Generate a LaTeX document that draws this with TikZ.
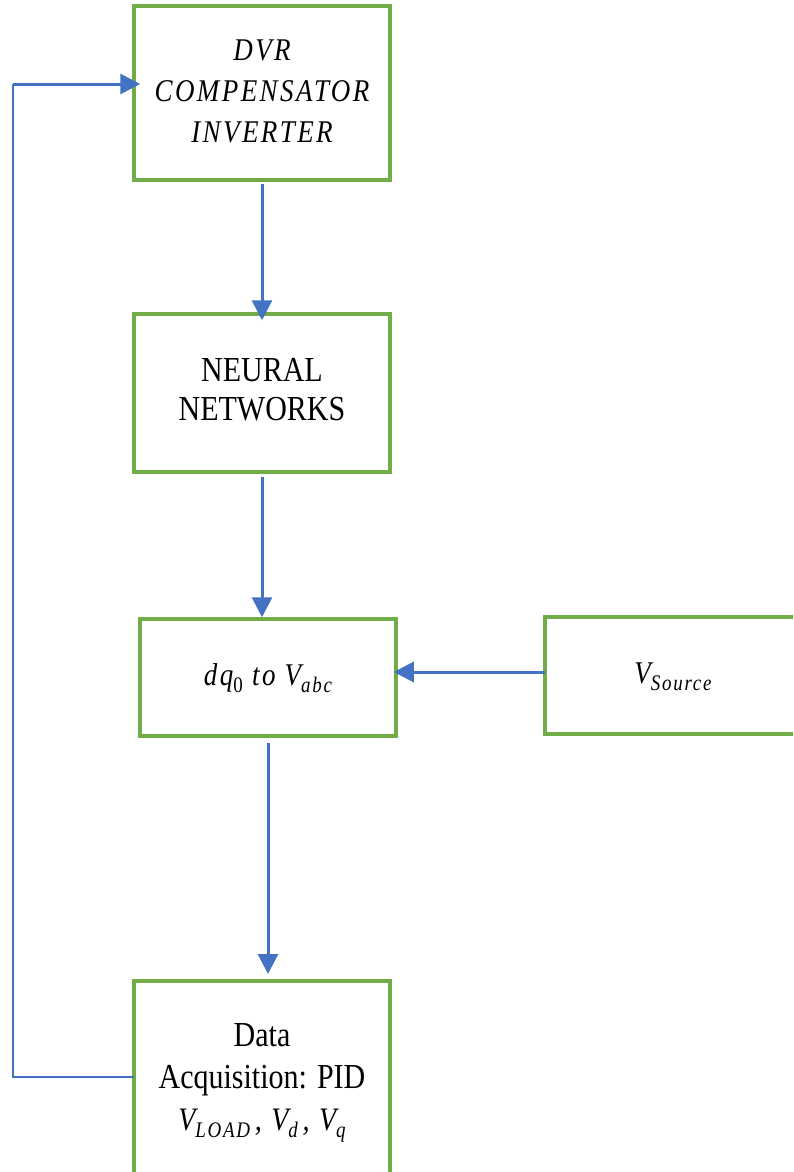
\documentclass[tikz,border=0pt]{standalone}
\usepackage{fontspec}
\setmainfont{Liberation Serif}
\newfontfamily\mifont{Liberation Serif}[LetterSpace=9]
\usepackage{graphicx}
\usetikzlibrary{arrows.meta,calc}
\definecolor{boxgreen}{HTML}{70AD47}
\definecolor{arrowblue}{HTML}{4472C4}
\newcommand{\stretchtxt}[4]{\scalebox{1}[1.17]{\fontsize{#1}{#2}\selectfont #3\begin{tabular}{@{}c@{}}#4\end{tabular}}}
\newcommand{\lowsub}[1]{\raisebox{-0.22em}{\fontsize{19}{19}\selectfont #1}}
\tikzset{
  blockbox/.style={draw=boxgreen, line width=3.5pt, fill=white, inner sep=0pt, minimum width=256pt},
  flowarrow/.style={draw=arrowblue, line width=3pt, -{Triangle[length=20pt,width=20pt]}},
  thinline/.style={draw=arrowblue, line width=1.3pt},
}
\begin{document}
\begin{tikzpicture}[x=1pt,y=-1pt]
\useasboundingbox (0,0) rectangle (793,1172);
\clip (0,0) rectangle (793,1172);

\node[blockbox, minimum height=174pt] (dvr) at (262,93)
  {\stretchtxt{27}{35}{\mifont\itshape}{DVR\\COMPENSATOR\\INVERTER}};
\node[blockbox, minimum height=158pt] (nn) at (262,393)
  {\stretchtxt{30}{33.5}{}{NEURAL\\NETWORKS}};
\node[blockbox, minimum height=117pt] (dq) at (268,677.5)
  {\stretchtxt{27}{33}{\mifont\itshape}{dq\lowsub{\upshape 0} to V\lowsub{abc}}};
\node[blockbox, minimum height=117pt] (vs) at (673,675.5)
  {\stretchtxt{27}{33}{\mifont\itshape}{V\lowsub{Source}}};
\node[blockbox, minimum height=220pt, anchor=north] (da) at (262,979) {};
\node[inner sep=0pt] (datxt) at (262,1080)
  {\stretchtxt{30}{36}{}{Data\\Acquisition: PID\\{\fontsize{28}{36}\mifont\itshape V\lowsub{LOAD}\,, V\lowsub{d}\,, V\lowsub{q}}}};

\coordinate (fbstart) at (134,1077);
\coordinate (fbbot) at (13,1077);
\coordinate (fbtop) at (13,84);
\coordinate (vsrow) at (545,672);

\draw[flowarrow, shorten <=2pt, shorten >=-8pt] (dvr.south) -- (nn.north);
\draw[flowarrow, shorten <=3pt] (nn.south) -- (nn.south |- dq.north);
\draw[flowarrow, shorten <=5pt, shorten >=5pt] (dq.south) -- (dq.south |- da.north);
\draw[flowarrow, shorten >=-4pt] (vsrow) -- (vsrow -| dq.east);
\draw[thinline] (fbstart) -- (fbbot) -- (fbtop);
\draw[flowarrow, shorten >=-8pt] (fbtop) -- (fbtop -| dvr.west);
\end{tikzpicture}
\end{document}
